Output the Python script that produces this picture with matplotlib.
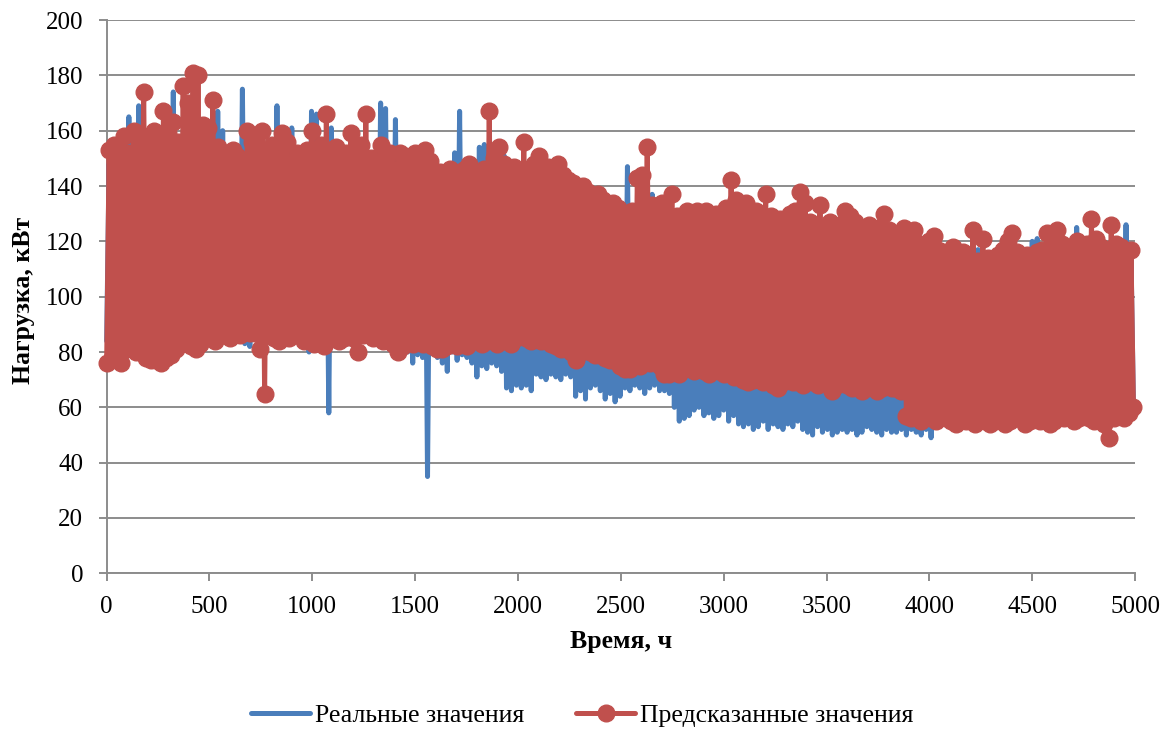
# %% 1.0 Libraries and data

import numpy as np
import matplotlib.pyplot as plt

plt.rcParams['font.family'] = ['Liberation Serif', 'DejaVu Serif']
plt.rcParams['path.simplify'] = False  # keep every up/down swing of the dense series

hours = np.arange(0, 4993, 12)

real_troughs = [
    84, 86, 85, 87, 88, 86, 85, 87, 86, 88,   # 0-216
    87, 85, 86, 88, 87, 89, 88, 87, 88, 86,   # 240-456
    88, 89, 87, 90, 88, 89, 88, 84, 83, 82,   # 480-696
    86, 84, 87, 88, 86, 87, 85, 83, 86, 87,   # 720-936
    86, 80, 87, 86, 85, 58, 87, 86, 85, 83,   # 960-1176
    86, 85, 87, 86, 88, 86, 85, 87, 86, 84,   # 1200-1416
    83, 80, 76, 79, 78, 35, 80, 78, 76, 73,   # 1440-1656
    80, 77, 79, 78, 76, 71, 75, 74, 76, 75,   # 1680-1896
    73, 67, 66, 68, 67, 68, 66, 72, 71, 70,   # 1920-2136
    72, 71, 70, 72, 71, 64, 66, 63, 67, 68,   # 2160-2376
    66, 63, 65, 62, 64, 67, 66, 68, 67, 65,   # 2400-2616
    67, 68, 66, 66, 65, 60, 55, 56, 57, 59,   # 2640-2856
    60, 57, 58, 56, 57, 59, 55, 57, 54, 53,   # 2880-3096
    54, 52, 53, 55, 52, 54, 53, 52, 54, 53,   # 3120-3336
    55, 52, 51, 50, 53, 51, 52, 50, 51, 52,   # 3360-3576
    51, 52, 50, 51, 53, 52, 51, 50, 52, 51,   # 3600-3816
    51, 52, 50, 52, 51, 50, 52, 49, 58, 57,   # 3840-4056
    58, 59, 57, 58, 60, 58, 59, 57, 58, 59,   # 4080-4296
    54, 58, 55, 59, 58, 60, 59, 58, 60, 59,   # 4320-4536
    60, 59, 61, 60, 58, 60, 59, 61, 60, 59,   # 4560-4776
    60, 61, 59, 62, 60, 61, 60, 59, 61,       # 4800-4992
]
real_peaks = [
    148, 150, 146, 152, 165, 150, 169, 152, 150, 153,   # 12-228
    151, 149, 152, 174, 150, 153, 155, 152, 154, 150,   # 252-468
    151, 150, 167, 160, 149, 150, 148, 175, 150, 149,   # 492-708
    148, 151, 150, 149, 169, 150, 148, 161, 150, 149,   # 732-948
    150, 167, 166, 148, 150, 161, 149, 150, 148, 151,   # 972-1188
    149, 150, 151, 148, 150, 170, 168, 149, 164, 148,   # 1212-1428
    147, 149, 146, 148, 147, 146, 145, 144, 143, 142,   # 1452-1668
    152, 167, 143, 142, 144, 154, 155, 146, 145, 144,   # 1692-1908
    151, 143, 142, 144, 143, 141, 142, 143, 141, 140,   # 1932-2148
    142, 140, 141, 139, 138, 137, 136, 137, 135, 134,   # 2172-2388
    133, 131, 132, 130, 128, 147, 129, 128, 127, 130,   # 2412-2628
    137, 128, 127, 126, 128, 125, 124, 126, 125, 124,   # 2652-2868
    125, 124, 123, 125, 124, 122, 125, 126, 124, 123,   # 2892-3108
    124, 123, 122, 124, 123, 121, 122, 123, 124, 122,   # 3132-3348
    123, 122, 121, 120, 121, 120, 119, 121, 120, 119,   # 3372-3588
    120, 119, 118, 120, 119, 118, 117, 119, 118, 117,   # 3612-3828
    118, 117, 116, 118, 115, 114, 115, 116, 113, 112,   # 3852-4068
    113, 112, 114, 113, 112, 112, 117, 113, 112, 114,   # 4092-4308
    112, 113, 111, 113, 114, 112, 113, 120, 121, 114,   # 4332-4548
    115, 113, 114, 116, 114, 115, 125, 116, 114, 115,   # 4572-4788
    114, 116, 115, 117, 115, 116, 126, 115,             # 4812-4980
]

pred_troughs = [
    76, 78, 77, 76, 81, 82, 80, 81, 78, 77,   # 0-216
    77, 76, 78, 79, 81, 83, 84, 82, 81, 83,   # 240-456
    85, 86, 84, 87, 86, 85, 87, 86, 88, 87,   # 480-696
    87, 81, 65, 86, 85, 84, 86, 85, 87, 86,   # 720-936
    84, 85, 83, 84, 82, 85, 86, 84, 85, 86,   # 960-1176
    85, 80, 86, 87, 85, 86, 84, 85, 83, 80,   # 1200-1416
    82, 84, 83, 85, 83, 84, 82, 81, 81, 82,   # 1440-1656
    83, 82, 84, 82, 85, 84, 83, 84, 85, 83,   # 1680-1896
    84, 85, 83, 85, 86, 85, 84, 85, 84, 85,   # 1920-2136
    83, 82, 81, 82, 80, 77, 80, 81, 80, 79,   # 2160-2376
    79, 78, 77, 78, 75, 74, 74, 76, 75, 77,   # 2400-2616
    76, 77, 75, 72, 72, 73, 72, 74, 75, 73,   # 2640-2856
    74, 73, 72, 74, 73, 72, 73, 71, 72, 70,   # 2880-3096
    69, 70, 71, 69, 70, 68, 67, 69, 70, 69,   # 3120-3336
    69, 68, 70, 69, 68, 69, 70, 66, 68, 69,   # 3360-3576
    68, 67, 68, 66, 67, 68, 66, 67, 68, 67,   # 3600-3816
    67, 66, 57, 56, 58, 55, 57, 56, 55, 57,   # 3840-4056
    56, 55, 54, 56, 55, 57, 54, 56, 55, 54,   # 4080-4296
    55, 56, 54, 55, 57, 56, 54, 55, 56, 55,   # 4320-4536
    56, 54, 55, 57, 56, 58, 55, 56, 57, 56,   # 4560-4776
    55, 56, 54, 49, 56, 57, 56, 58, 60,       # 4800-4992
]
pred_peaks = [
    153, 155, 150, 158, 152, 160, 156, 174, 158, 160,   # 12-228
    158, 167, 159, 163, 156, 176, 170, 181, 180, 162,   # 252-468
    161, 171, 154, 152, 150, 153, 151, 149, 160, 156,   # 492-708
    154, 160, 152, 155, 150, 159, 156, 148, 152, 150,   # 732-948
    153, 160, 150, 155, 166, 151, 154, 149, 152, 159,   # 972-1188
    151, 155, 166, 150, 148, 155, 149, 152, 146, 152,   # 1212-1428
    151, 148, 152, 150, 153, 149, 143, 145, 144, 146,   # 1452-1668
    143, 145, 146, 148, 142, 145, 146, 167, 150, 154,   # 1692-1908
    148, 145, 147, 143, 156, 146, 148, 151, 145, 147,   # 1932-2148
    146, 148, 144, 142, 141, 139, 140, 138, 136, 137,   # 2172-2388
    135, 133, 134, 132, 130, 129, 131, 143, 144, 154,   # 2412-2628
    133, 131, 134, 130, 137, 129, 128, 131, 130, 131,   # 2652-2868
    129, 131, 128, 130, 127, 132, 142, 135, 130, 134,   # 2892-3108
    128, 131, 127, 137, 129, 126, 128, 127, 130, 131,   # 3132-3348
    138, 134, 127, 126, 133, 125, 127, 124, 126, 131,   # 3372-3588
    129, 127, 125, 124, 126, 123, 125, 130, 124, 122,   # 3612-3828
    123, 125, 121, 124, 119, 118, 120, 122, 117, 116,   # 3852-4068
    115, 118, 114, 116, 112, 124, 113, 121, 114, 113,   # 4092-4308
    115, 117, 120, 123, 116, 114, 115, 113, 116, 117,   # 4332-4548
    123, 122, 124, 119, 117, 118, 120, 116, 119, 128,   # 4572-4788
    121, 118, 117, 126, 119, 118, 116, 117,             # 4812-4980
]

xticks = [0, 500, 1000, 1500, 2000, 2500, 3000, 3500, 4000, 4500, 5000]
yticks = [0, 20, 40, 60, 80, 100, 120, 140, 160, 180, 200]

# %% 2.0 Interleave troughs and peaks

real = np.empty(len(hours))
real[0::2] = real_troughs
real[1::2] = real_peaks

pred = np.empty(len(hours))
pred[0::2] = pred_troughs
pred[1::2] = pred_peaks

# %% 3.0 Plot

blue = '#4A7EBB'
red = '#C0504D'
grid_c = '#8C8C8C'

fig = plt.figure(figsize=(11.72, 7.31), dpi=100)
ax = fig.add_axes([0.091, 0.2157, 0.8775, 0.7569])

ax.plot(hours, real, color=blue, lw=3.6, solid_joinstyle='round',
        solid_capstyle='round', label='Реальные значения', clip_on=False, zorder=3)
ax.plot(hours, pred, color=red, lw=3.6, marker='o', ms=12, mfc=red, mec=red,
        solid_joinstyle='round', solid_capstyle='round',
        label='Предсказанные значения', clip_on=False, zorder=4)

ax.set_xlim(0, 5000)
ax.set_ylim(0, 200)
ax.set_xticks(xticks)
ax.set_yticks(yticks)
ax.yaxis.grid(True, color=grid_c, lw=1.4)
ax.set_axisbelow(True)

for s in ['top', 'right']:
    ax.spines[s].set_visible(False)
for s in ['left', 'bottom']:
    ax.spines[s].set_color(grid_c)
    ax.spines[s].set_linewidth(1.4)
ax.tick_params(axis='both', direction='out', length=6, width=1.4, color=grid_c,
               labelsize=18)
ax.tick_params(axis='x', pad=10)
ax.tick_params(axis='y', pad=11)

ax.set_xlabel('Время, ч', fontsize=18.5, fontweight='bold')
ax.set_ylabel('Нагрузка, кВт', fontsize=18.5, fontweight='bold')
ax.xaxis.set_label_coords(0.5, -0.102)
ax.yaxis.set_label_coords(-0.081, 0.494)
ax.yaxis.label.set_verticalalignment('center')

fig.legend(loc='center', bbox_to_anchor=(0.497, 0.021), ncol=2, frameon=False,
           fontsize=18.5, handlelength=2.3, handletextpad=0.2, columnspacing=2.0)

fig.savefig('out.png', dpi=100)
